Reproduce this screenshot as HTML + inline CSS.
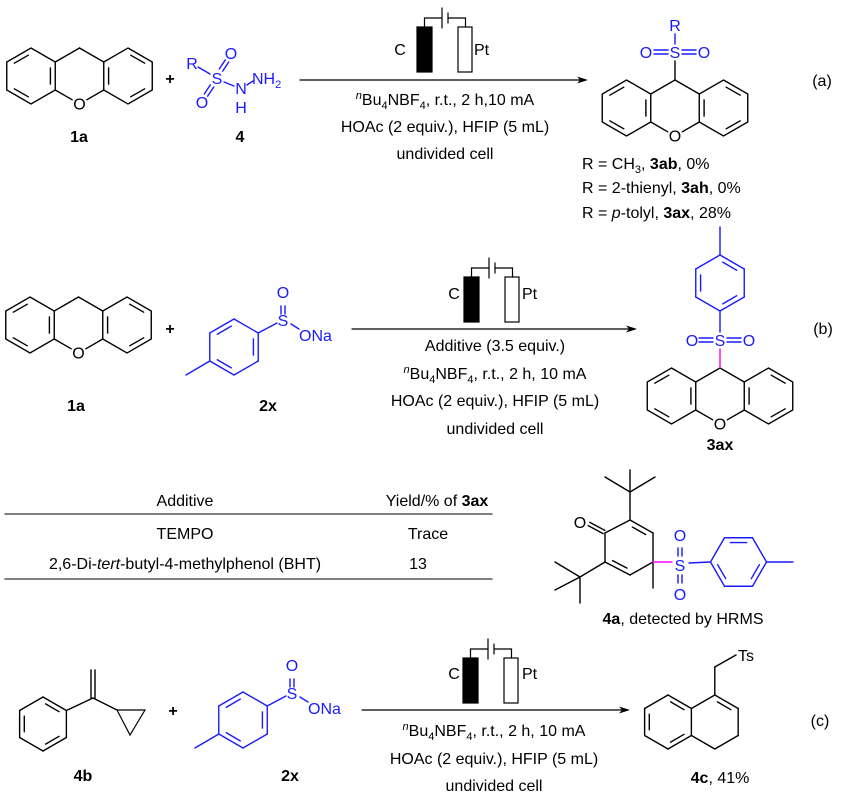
<!DOCTYPE html>
<html><head><meta charset="utf-8">
<style>
html,body{margin:0;padding:0;background:#fff;}
svg{display:block;font-family:"Liberation Sans",Arial,sans-serif;}
.t{font-size:16px;fill:#000;}
.b{font-weight:bold;}
.bl{fill:#1a1aff;font-size:16px;}
</style></head>
<body>
<svg id="s" width="850" height="804" viewBox="0 0 850 804" xmlns="http://www.w3.org/2000/svg">
<defs>
<g id="xan" stroke="#000" stroke-width="1.4" fill="none" stroke-linecap="round">
<polygon points="-48.5,-28 -24.25,-14 -24.25,14 -48.5,28 -72.75,14 -72.75,-14"/>
<polygon points="48.5,-28 72.75,-14 72.75,14 48.5,28 24.25,14 24.25,-14"/>
<line x1="-65.2" y1="-12.8" x2="-51.2" y2="-20.8"/>
<line x1="-29.1" y1="-8.1" x2="-29.1" y2="8.1"/>
<line x1="-51.2" y1="20.8" x2="-65.2" y2="12.8"/>
<line x1="65.2" y1="-12.8" x2="51.2" y2="-20.8"/>
<line x1="29.1" y1="-8.1" x2="29.1" y2="8.1"/>
<line x1="51.2" y1="20.8" x2="65.2" y2="12.8"/>
<line x1="0" y1="-28" x2="-24.25" y2="-14"/>
<line x1="0" y1="-28" x2="24.25" y2="-14"/>
<line x1="-24.25" y1="14" x2="-7.3" y2="23.8"/>
<line x1="24.25" y1="14" x2="7.3" y2="23.8"/>
</g>
</defs>
<use href="#xan" transform="translate(79.5,76)"/>
<use href="#xan" transform="translate(675,108)"/>
<use href="#xan" transform="translate(78.5,325)"/>
<use href="#xan" transform="translate(720,396)"/>
<g id="g" stroke-linecap="round" fill="none" stroke-width="1.4"></g>

<!-- Row a -->
<text class="t" x="79.5" y="109.5" text-anchor="middle">O</text>
<text class="t b" x="79" y="142" text-anchor="middle">1a</text>
<text class="t b" x="170" y="84" text-anchor="middle">+</text>
<text class="bl" x="192" y="69" text-anchor="middle">R</text>
<text class="bl" x="217" y="84" text-anchor="middle">S</text>
<text class="bl" x="231" y="59" text-anchor="middle">O</text>
<text class="bl" x="202" y="108" text-anchor="middle">O</text>
<text class="bl" x="241" y="94" text-anchor="middle">N</text>
<text class="bl" x="241" y="113" text-anchor="middle">H</text>
<text class="bl" x="252" y="84">NH<tspan font-size="11" dy="4">2</tspan></text>
<text class="t b" x="240" y="142" text-anchor="middle">4</text>

<text class="t" x="400" y="55" text-anchor="middle">C</text>
<text class="t" x="474" y="55">Pt</text>
<text class="t" x="445" y="105" text-anchor="middle"><tspan font-size="11" font-style="italic" dy="-6">n</tspan><tspan dy="6">Bu</tspan><tspan font-size="11" dy="4">4</tspan><tspan dy="-4">NBF</tspan><tspan font-size="11" dy="4">4</tspan><tspan dy="-4">, r.t., 2 h,10 mA</tspan></text>
<text class="t" x="445" y="132" text-anchor="middle">HOAc (2 equiv.), HFIP (5 mL)</text>
<text class="t" x="445" y="159" text-anchor="middle">undivided cell</text>

<text class="bl" x="675" y="31" text-anchor="middle">R</text>
<text class="bl" x="675" y="58" text-anchor="middle">S</text>
<text class="bl" x="646" y="58" text-anchor="middle">O</text>
<text class="bl" x="704" y="58" text-anchor="middle">O</text>
<text class="t" x="675" y="141.5" text-anchor="middle">O</text>
<text class="t" x="582" y="169">R = CH<tspan font-size="11" dy="4">3</tspan><tspan dy="-4">, </tspan><tspan class="b">3ab</tspan>, 0%</text>
<text class="t" x="582" y="193">R = 2-thienyl, <tspan class="b">3ah</tspan>, 0%</text>
<text class="t" x="582" y="218">R = <tspan font-style="italic">p</tspan>-tolyl, <tspan class="b">3ax</tspan>, 28%</text>
<text class="t" x="822" y="86" text-anchor="middle">(a)</text>

<!-- Row b -->
<text class="t" x="78.5" y="358.5" text-anchor="middle">O</text>
<text class="t b" x="76" y="411" text-anchor="middle">1a</text>
<text class="t b" x="170" y="334" text-anchor="middle">+</text>
<text class="bl" x="283" y="326" text-anchor="middle">S</text>
<text class="bl" x="283" y="298" text-anchor="middle">O</text>
<text class="bl" x="299" y="341">ONa</text>
<text class="t b" x="268" y="411" text-anchor="middle">2x</text>

<text class="t" x="454" y="299" text-anchor="middle">C</text>
<text class="t" x="522" y="299">Pt</text>
<text class="t" x="495" y="351" text-anchor="middle">Additive (3.5 equiv.)</text>
<text class="t" x="495" y="379" text-anchor="middle"><tspan font-size="11" font-style="italic" dy="-6">n</tspan><tspan dy="6">Bu</tspan><tspan font-size="11" dy="4">4</tspan><tspan dy="-4">NBF</tspan><tspan font-size="11" dy="4">4</tspan><tspan dy="-4">, r.t., 2 h, 10 mA</tspan></text>
<text class="t" x="495" y="406" text-anchor="middle">HOAc (2 equiv.), HFIP (5 mL)</text>
<text class="t" x="495" y="434" text-anchor="middle">undivided cell</text>

<text class="bl" x="720" y="346" text-anchor="middle">S</text>
<text class="bl" x="692" y="346" text-anchor="middle">O</text>
<text class="bl" x="749" y="346" text-anchor="middle">O</text>
<text class="t" x="720" y="429.5" text-anchor="middle">O</text>
<text class="t b" x="720" y="450" text-anchor="middle">3ax</text>
<text class="t" x="823" y="334" text-anchor="middle">(b)</text>

<!-- Table -->
<text class="t" x="185" y="506" text-anchor="middle">Additive</text>
<text class="t" x="437" y="506" text-anchor="middle">Yield/% of <tspan class="b">3ax</tspan></text>
<text class="t" x="185" y="539" text-anchor="middle">TEMPO</text>
<text class="t" x="428" y="539" text-anchor="middle">Trace</text>
<text class="t" x="185" y="569" text-anchor="middle">2,6-Di-<tspan font-style="italic">tert</tspan>-butyl-4-methylphenol (BHT)</text>
<text class="t" x="418" y="569" text-anchor="middle">13</text>

<!-- 4a -->
<text class="t" x="580" y="528" text-anchor="middle">O</text>
<text class="bl" x="680" y="571" text-anchor="middle">S</text>
<text class="bl" x="680" y="541" text-anchor="middle">O</text>
<text class="bl" x="680" y="600" text-anchor="middle">O</text>
<text class="t" x="683" y="624" text-anchor="middle"><tspan class="b">4a</tspan>, detected by HRMS</text>

<!-- Row c -->
<text class="t b" x="173" y="716" text-anchor="middle">+</text>
<text class="t b" x="83" y="781" text-anchor="middle">4b</text>
<text class="bl" x="292" y="699" text-anchor="middle">S</text>
<text class="bl" x="292" y="671" text-anchor="middle">O</text>
<text class="bl" x="308" y="714">ONa</text>
<text class="t b" x="290" y="781" text-anchor="middle">2x</text>

<text class="t" x="454" y="679" text-anchor="middle">C</text>
<text class="t" x="522" y="679">Pt</text>
<text class="t" x="494" y="736" text-anchor="middle"><tspan font-size="11" font-style="italic" dy="-6">n</tspan><tspan dy="6">Bu</tspan><tspan font-size="11" dy="4">4</tspan><tspan dy="-4">NBF</tspan><tspan font-size="11" dy="4">4</tspan><tspan dy="-4">, r.t., 2 h, 10 mA</tspan></text>
<text class="t" x="494" y="764" text-anchor="middle">HOAc (2 equiv.), HFIP (5 mL)</text>
<text class="t" x="494" y="791" text-anchor="middle">undivided cell</text>

<text class="t" x="738" y="661">Ts</text>
<text class="t" x="720" y="783" text-anchor="middle"><tspan class="b">4c</tspan>, 41%</text>
<text class="t" x="820" y="726" text-anchor="middle">(c)</text>
</svg>
<script>
(function(){
var g=document.getElementById('g');var NS='http://www.w3.org/2000/svg';
var K='#000',B='#1a1aff',M='#ff00ff';
function L(a,b,c,d,col,w){var e=document.createElementNS(NS,'line');e.setAttribute('x1',a);e.setAttribute('y1',b);e.setAttribute('x2',c);e.setAttribute('y2',d);e.setAttribute('stroke',col||K);if(w)e.setAttribute('stroke-width',w);g.appendChild(e);}
function R(x,y,w,h,fill){var e=document.createElementNS(NS,'rect');e.setAttribute('x',x);e.setAttribute('y',y);e.setAttribute('width',w);e.setAttribute('height',h);e.setAttribute('fill',fill);e.setAttribute('stroke','#000');e.setAttribute('stroke-width','1.2');g.appendChild(e);}
function P(pts,col){var e=document.createElementNS(NS,'polyline');e.setAttribute('points',pts);e.setAttribute('stroke',col||K);e.setAttribute('fill','none');e.setAttribute('stroke-width','1.2');g.appendChild(e);}
function verts(cx,cy,r,a0){var v=[];for(var i=0;i<6;i++){var a=(a0+60*i)*Math.PI/180;v.push([cx+r*Math.cos(a),cy+r*Math.sin(a)]);}return v;}
function inner(cx,cy,v1,v2,col){var f=0.2,s=0.14;var a=[v1[0]+(cx-v1[0])*f,v1[1]+(cy-v1[1])*f],b=[v2[0]+(cx-v2[0])*f,v2[1]+(cy-v2[1])*f];var dx=b[0]-a[0],dy=b[1]-a[1];L(a[0]+dx*s,a[1]+dy*s,b[0]-dx*s,b[1]-dy*s,col);}
function hex(cx,cy,r,a0,dbl,col,draw){var v=verts(cx,cy,r,a0);for(var i=0;i<6;i++){if(draw&&draw.indexOf(i)<0)continue;var p=v[i],q=v[(i+1)%6];L(p[0],p[1],q[0],q[1],col);if(dbl.indexOf(i)>=0)inner(cx,cy,p,q,col);}return v;}
function arrow(x1,x2,y){L(x1,y,x2-8,y,K,1.2);var e=document.createElementNS(NS,'polygon');e.setAttribute('points',x2+','+y+' '+(x2-11)+','+(y-3.5)+' '+(x2-8)+','+y+' '+(x2-11)+','+(y+3.5));e.setAttribute('fill','#000');g.appendChild(e);}
function cell(x,y){
 R(x,y,15,45,'#000');R(x+41,y,14,45,'#fff');
 P((x+7.5)+','+y+' '+(x+7.5)+','+(y-9)+' '+(x+25)+','+(y-9));
 L(x+25,y-19,x+25,y+1,K,1.2);L(x+31,y-14,x+31,y-4,K,1.2);
 P((x+31)+','+(y-9)+' '+(x+48.5)+','+(y-9)+' '+(x+48.5)+','+y);}
function dbl(x1,y1,x2,y2,col,o){var dx=x2-x1,dy=y2-y1,l=Math.hypot(dx,dy),nx=-dy/l*o,ny=dx/l*o;L(x1+nx,y1+ny,x2+nx,y2+ny,col);L(x1-nx,y1-ny,x2-nx,y2-ny,col);}

// Row a
L(198,67,210,74,B);dbl(221,70,227,61,B,2);dbl(212,86,206,95,B,2);L(224,82,234,86,B);L(247,85,253,81,B);
arrow(300,588,80);cell(417,27);
L(675,34,675,44,B);dbl(654,52,668,52,B,2);dbl(682,52,696,52,B,2);L(675,61,675,80);

// Row b
var c=[234,347];hex(c[0],c[1],28,-90,[5,1,3],B);
L(c[0]-24.2,c[1]+14,c[0]-48,c[1]+28,B);L(c[0]+24.2,c[1]-14,c[0]+43,c[1]-24,B);
dbl(283,306,283,314,B,2);L(291,324,299,329,B);
arrow(352,637,329);cell(464,277);
hex(720,283,28,-90,[0,4,2],B);L(720,255,720,227,B);L(720,311,720,332,B);
dbl(699,340,713,340,B,2);dbl(727,340,741,340,B,2);L(720,349,720,368,M);

// Table
L(5,514,492,514,'#555',1.5);L(5,579,492,579,'#555',1.5);

// 4a
var A=[[605,533],[630,520],[653,533],[653,562],[630,575],[605,562]];
for(var i=0;i<6;i++){var p=A[i],q=A[(i+1)%6];L(p[0],p[1],q[0],q[1]);}
inner(629,548,A[1],A[2],K);inner(629,548,A[4],A[5],K);
dbl(604,532,589,524,K,1.8);
L(630,520,630,492);L(630,492,605,477);L(630,492,655,477);L(630,492,630,470);
L(605,562,580,577);L(580,577,555,562);L(580,577,555,590);L(580,577,580,603);
L(653,562,653,588);L(653,562,672,562,M);
dbl(680,548,680,556,B,2);dbl(680,575,680,583,B,2);
L(689,563,710,562,B);hex(738.5,562,28,0,[4,2,0],B);L(766.5,562,793,562,B);

// Row c
hex(43,724,27,-90,[0,2,4],K);
L(66.4,710.5,93,698);dbl(93,698,93,670,K,2);L(93,698,117,710);
P('117,710 145,710 130,735 117,710');
var d=[243,720];hex(d[0],d[1],28,-90,[5,1,3],B);
L(d[0]-24.2,d[1]+14,d[0]-48,d[1]+28,B);L(d[0]+24.2,d[1]-14,d[0]+43,d[1]-24,B);
dbl(292,679,292,687,B,2);L(300,697,308,702,B);
arrow(362,630,710);cell(463,658);
hex(668,722,27,-90,[0,2,4],K);
hex(714.8,722,27,-90,[0],K,[0,1,2,3,5]);
L(714.8,695,714.8,667);L(714.8,667,736,655);
})();
</script>
</body></html>
